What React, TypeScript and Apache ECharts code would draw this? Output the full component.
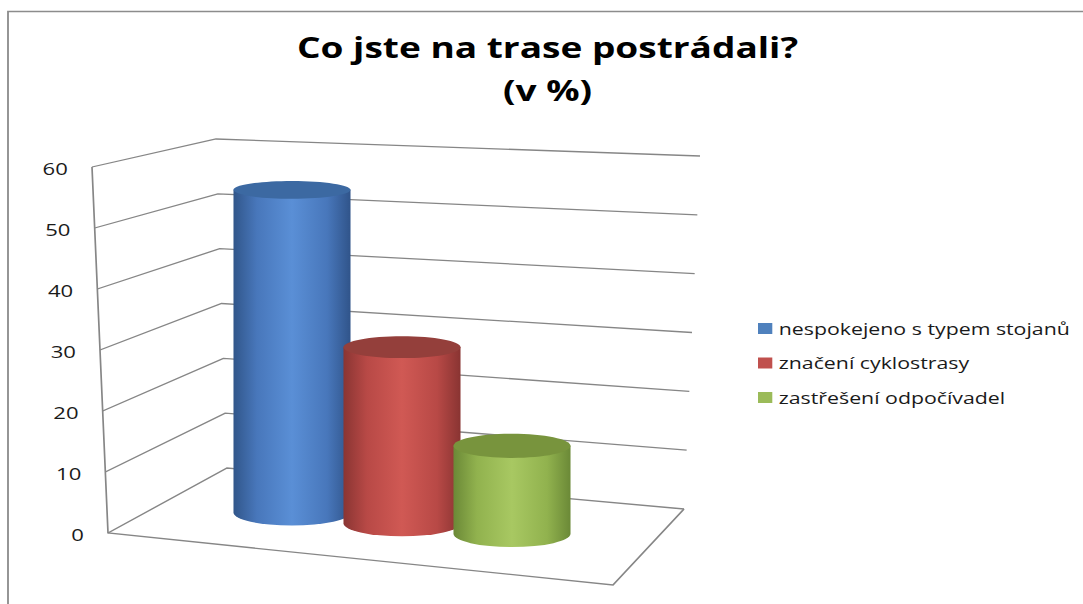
import React, { useEffect, useRef } from "react";
import * as echarts from "echarts";

// ---------- data ----------
const TITLE_LINES = ["Co jste na trase postrádali?", "(v %)"];
const SERIES_NAMES = ["nespokejeno s typem stojanů", "značení cyklostrasy", "zastřešení odpočívadel"];
const SERIES_VALUES = [55, 30, 15];
const Y_TICKS = [0, 10, 20, 30, 40, 50, 60];
const Y_MIN = 0;
const Y_MAX = 60;
const Y_INTERVAL = 10;

// ---------- styles ----------
const SERIES_COLORS = ["#4f81bd", "#c0504d", "#9bbb59"];
const BODY_STOPS = [
  ["#31568a", "#4877bb", "#5a8fd6", "#4877bb", "#30548a"],
  ["#8a3533", "#b84946", "#d05954", "#b84946", "#893432"],
  ["#6b8937", "#91b24e", "#a8c862", "#91b24e", "#6b8937"],
];
const TOP_COLORS = ["#3c69a2", "#943f3b", "#78943d"];
const GRID_COLOR = "#868686";
const FONT = "'Open Sans', sans-serif";

// ---------- layout (reference pixels; x is stretched by SX) ----------
const SX = 1.3;
const INNER_W = 1083 / SX;
const X = (x: number) => x / SX;
const P = (p: number[]) => [p[0] / SX, p[1]];

const FL_B = [108, 533];
const FL_T = [92, 167];
const BL_B = [227, 468];
const BL_T = [216, 139];
const BR_B = [684, 509];
const BR_T = [700, 156];
const FR_B = [613, 585];
const CYL_WIDTH_RATIO = 1.064;
const RY_K = 0.0124;
const RY_H = 534;

const lerp = (a: number[], b: number[], t: number) => [a[0] + (b[0] - a[0]) * t, a[1] + (b[1] - a[1]) * t];
const MID_A = lerp(FL_B, BL_B, 0.5);
const MID_B = lerp(FR_B, BR_B, 0.5);
const floorMidY = (xRef: number) => MID_A[1] + ((xRef - MID_A[0]) / (MID_B[0] - MID_A[0])) * (MID_B[1] - MID_A[1]);

function buildOption() {
  const rich: Record<string, any> = {};
  Y_TICKS.forEach((v) => {
    rich["t" + v] = {
      fontFamily: FONT,
      fontSize: 17,
      color: "#1a1a1a",
      padding: [0, X(0.27 * v), 0, 0],
    };
  });

  const frameSeries = {
    type: "custom",
    name: "frame",
    xAxisIndex: 0,
    yAxisIndex: 0,
    silent: true,
    z: 1,
    data: Y_TICKS.map((v) => [0, v]),
    renderItem: (params: any, api: any) => {
      const v = api.value(1);
      const c0 = api.coord([0, Y_MIN])[1];
      const cm = api.coord([0, Y_MAX])[1];
      const cv = api.coord([0, v])[1];
      const t = (c0 - cv) / (c0 - cm);
      const style = { stroke: GRID_COLOR, lineWidth: 1.3, fill: null };
      const children: any[] = [
        {
          type: "polyline",
          shape: { points: [P(lerp(FL_B, FL_T, t)), P(lerp(BL_B, BL_T, t)), P(lerp(BR_B, BR_T, t))] },
          style,
        },
      ];
      if (params.dataIndex === 0) {
        children.push({
          type: "polyline",
          shape: { points: [P(FL_T), P(FL_B), P(FR_B), P(BR_B)] },
          style,
        });
      }
      return { type: "group", children };
    },
  };

  const cylSeries = SERIES_NAMES.map((name, i) => ({
    type: "custom",
    name,
    xAxisIndex: 1,
    yAxisIndex: 1,
    z: 2,
    itemStyle: { color: SERIES_COLORS[i] },
    data: [[i, SERIES_VALUES[i]]],
    renderItem: (params: any, api: any) => {
      const cat = api.value(0);
      const val = api.value(1);
      const [cx, y0] = api.coord([cat, 0]);
      const yv = api.coord([cat, val])[1];
      const h = y0 - yv;
      const rx = (api.size([1, 0])[0] * CYL_WIDTH_RATIO) / 2;
      const baseY = floorMidY(cx * SX);
      const topY = baseY - h;
      const ryB = RY_K * (baseY + RY_H);
      const ryT = RY_K * (topY + RY_H);
      const stops = BODY_STOPS[i];
      const grad = new echarts.graphic.LinearGradient(0, 0, 1, 0, [
        { offset: 0, color: stops[0] },
        { offset: 0.2, color: stops[1] },
        { offset: 0.5, color: stops[2] },
        { offset: 0.8, color: stops[3] },
        { offset: 1, color: stops[4] },
      ]);
      const d =
        `M ${cx - rx} ${topY} L ${cx - rx} ${baseY} ` +
        `A ${rx} ${ryB} 0 0 0 ${cx + rx} ${baseY} L ${cx + rx} ${topY} Z`;
      return {
        type: "group",
        children: [
          { type: "path", shape: { pathData: d }, style: { fill: grad } },
          { type: "ellipse", shape: { cx, cy: topY, rx, ry: ryT }, style: { fill: TOP_COLORS[i] } },
        ],
      };
    },
  }));

  return {
    animation: false,
    backgroundColor: "#ffffff",
    title: {
      text: TITLE_LINES.join("\n"),
      left: X(547.5),
      top: 26,
      padding: 0,
      textAlign: "center",
      textStyle: { fontFamily: FONT, fontWeight: "bold", fontSize: 28.5, lineHeight: 43, color: "#000" },
    },
    legend: {
      data: SERIES_NAMES,
      orient: "vertical",
      left: X(758),
      top: 319.5,
      padding: 0,
      itemWidth: 11,
      itemHeight: 11,
      itemGap: 16.5,
      icon: "rect",
      selectedMode: false,
      textStyle: { fontFamily: FONT, fontSize: 16.4, color: "#1a1a1a", lineHeight: 18 },
    },
    grid: [
      { left: X(84), top: 169, height: 366, width: 100 },
      { left: X(237), top: 160, height: 352, width: X(330) },
    ],
    xAxis: [
      { gridIndex: 0, type: "value", show: false, min: 0, max: 1 },
      { gridIndex: 1, type: "category", data: SERIES_NAMES, show: false },
    ],
    yAxis: [
      {
        gridIndex: 0,
        type: "value",
        min: Y_MIN,
        max: Y_MAX,
        interval: Y_INTERVAL,
        axisLine: { show: false },
        axisTick: { show: false },
        splitLine: { show: false },
        axisLabel: { margin: 0, formatter: (v: number) => `{t${v}|${v}}`, rich },
      },
      { gridIndex: 1, type: "value", min: Y_MIN, max: Y_MAX, show: false },
    ],
    graphic: [
      {
        type: "polyline",
        silent: true,
        shape: { points: [[X(8), 610], [X(8), 11.5], [X(1083) + 5, 11.5]] },
        style: { stroke: "#8c8c8c", lineWidth: 1.4, fill: null },
      },
    ],
    series: [frameSeries, ...cylSeries],
  };
}

export default function App() {
  const ref = useRef<HTMLDivElement>(null);
  useEffect(() => {
    const chart = echarts.init(ref.current!, null, { renderer: "svg" });
    chart.setOption(buildOption() as any);
    return () => chart.dispose();
  }, []);
  return (
    <div
      style={{
        position: "fixed",
        left: 0,
        top: 0,
        width: 1083,
        height: 604,
        overflow: "hidden",
        background: "#fff",
      }}
    >
      <div style={{ width: INNER_W, height: 604, transform: `scaleX(${SX})`, transformOrigin: "0 0" }}>
        <div ref={ref} style={{ width: INNER_W, height: 604 }} />
      </div>
    </div>
  );
}
